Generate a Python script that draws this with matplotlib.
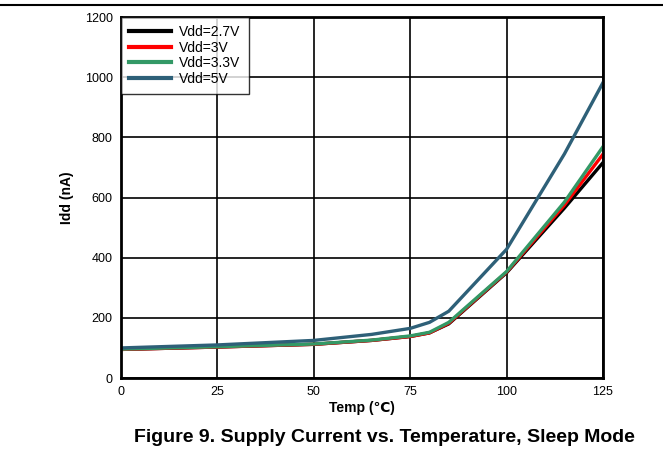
import matplotlib
matplotlib.use("Agg")
import matplotlib.pyplot as plt
from matplotlib.lines import Line2D

plt.rcParams['font.family'] = ['Liberation Sans', 'DejaVu Sans']

temps = [0, 25, 50, 65, 75, 80, 85, 100, 115, 125]
idd_27 = [95, 103, 112, 125, 138, 150, 180, 350, 565, 716]
idd_30 = [95, 103, 112, 125, 138, 150, 182, 352, 575, 744]
idd_33 = [96, 104, 113, 126, 140, 152, 185, 354, 585, 769]
idd_50 = [100, 110, 125, 145, 165, 185, 222, 428, 745, 982]
labels = ["Vdd=2.7V", "Vdd=3V", "Vdd=3.3V", "Vdd=5V"]
colors = ["#000000", "#ff0000", "#339966", "#2e6078"]

fig = plt.figure(figsize=(6.63, 4.55), dpi=100)
ax = fig.add_axes([0.1825, 0.1692, 0.727, 0.7934])

for y, lab, c in zip([idd_27, idd_30, idd_33, idd_50], labels, colors):
    ax.plot(temps, y, color=c, lw=2.4, label=lab, solid_joinstyle='miter')

ax.set_xlim(0, 125)
ax.set_ylim(0, 1200)
ax.set_xticks([0, 25, 50, 75, 100, 125])
ax.set_yticks([0, 200, 400, 600, 800, 1000, 1200])
ax.grid(True, color='black', lw=1.2)
ax.set_axisbelow(True)
for s in ax.spines.values():
    s.set_linewidth(2)
ax.tick_params(length=0, labelsize=9, pad=6)
ax.set_xlabel("Temp (℃)", fontsize=10, fontweight='bold', labelpad=2)
ax.set_ylabel("Idd (nA)", fontsize=10, fontweight='bold', labelpad=8)

leg = ax.legend(loc='upper left', fontsize=10, frameon=True, fancybox=False,
                borderaxespad=0, handlelength=3.0, handletextpad=0.6,
                labelspacing=0.1, borderpad=0.6)
leg.get_frame().set_edgecolor('black')
leg.get_frame().set_linewidth(1.0)
for l in leg.get_lines():
    l.set_linewidth(3)

fig.add_artist(Line2D([0, 1], [1 - 5/455, 1 - 5/455], color='black', lw=1.5,
                      transform=fig.transFigure))
fig.text(384/663, 1 - 437/455, "Figure 9. Supply Current vs. Temperature, Sleep Mode",
         ha='center', va='center', fontsize=14, fontweight='bold')

fig.savefig("out.png", dpi=100)
